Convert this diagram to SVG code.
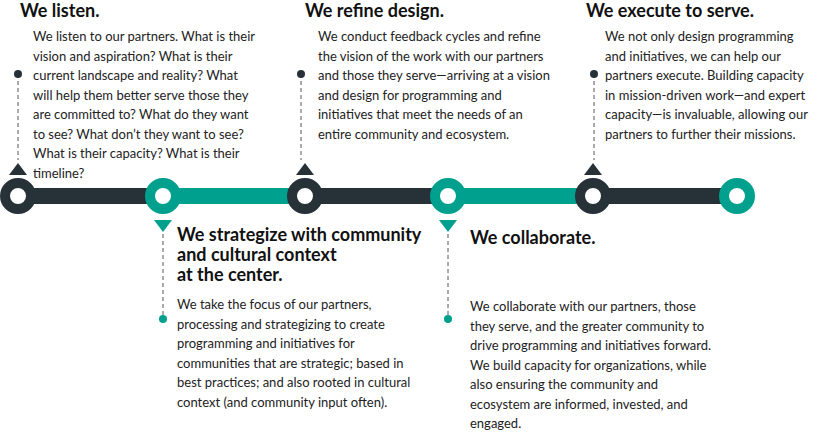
<svg xmlns="http://www.w3.org/2000/svg" width="819" height="432" viewBox="0 0 819 432">
<style>
.h{font-family:Lato,"Liberation Sans",sans-serif;font-weight:bold;font-size:18px;fill:#111}
.b{font-family:Lato,"Liberation Sans",sans-serif;font-size:13px;fill:#222}
.d{fill:#263238}.t{fill:#00a08e}
.dl{stroke:#555;stroke-width:1;stroke-dasharray:4,3}
</style>
<rect width="819" height="432" fill="#fff"/>
<g id="connectors">
<rect x="18" y="188" width="145" height="16" class="d"/>
<rect x="163" y="188" width="142" height="16" class="t"/>
<rect x="305" y="188" width="143" height="16" class="d"/>
<rect x="448" y="188" width="145" height="16" class="t"/>
<rect x="593" y="188" width="144" height="16" class="d"/>
<line x1="18" y1="74" x2="18" y2="160" class="dl"/>
<line x1="301" y1="74" x2="301" y2="160" class="dl"/>
<line x1="594" y1="74" x2="594" y2="160" class="dl"/>
<line x1="163" y1="234" x2="163" y2="319" class="dl"/>
<line x1="448" y1="234" x2="448" y2="319" class="dl"/>
<circle cx="18" cy="74" r="4" class="d"/><circle cx="301" cy="74" r="4" class="d"/><circle cx="594" cy="74" r="4" class="d"/>
<circle cx="163" cy="319" r="4" class="t"/><circle cx="448" cy="319" r="4" class="t"/>
<polygon points="9,175 27,175 18,163" class="d"/>
<polygon points="296,175 314,175 305,163" class="d"/>
<polygon points="584,175 602,175 593,163" class="d"/>
<polygon points="154,220 172,220 163,232" class="t"/>
<polygon points="439,220 457,220 448,232" class="t"/>
</g>
<g id="n1"><circle cx="18" cy="196" r="13" fill="#fff" stroke="#263238" stroke-width="10"/>
<text class="h" x="20" y="17">We listen.</text>
<text class="b"><tspan x="33" y="41">We listen to our partners. What is their</tspan><tspan x="33" y="60.5">vision and aspiration? What is their</tspan><tspan x="33" y="80">current landscape and reality? What</tspan><tspan x="33" y="99.5">will help them better serve those they</tspan><tspan x="33" y="119">are committed to? What do they want</tspan><tspan x="33" y="138.5">to see? What don’t they want to see?</tspan><tspan x="33" y="158">What is their capacity? What is their</tspan><tspan x="33" y="177.5">timeline?</tspan></text></g>
<g id="n2"><circle cx="163" cy="196" r="13" fill="#fff" stroke="#00a08e" stroke-width="10"/>
<text class="h"><tspan x="177" y="241">We strategize with community</tspan><tspan x="177" y="261">and cultural context</tspan><tspan x="177" y="281">at the center.</tspan></text>
<text class="b"><tspan x="177" y="309">We take the focus of our partners,</tspan><tspan x="177" y="328.5">processing and strategizing to create</tspan><tspan x="177" y="348">programming and initiatives for</tspan><tspan x="177" y="367.5">communities that are strategic; based in</tspan><tspan x="177" y="387">best practices; and also rooted in cultural</tspan><tspan x="177" y="406.5">context (and community input often).</tspan></text></g>
<g id="n3"><circle cx="305" cy="196" r="13" fill="#fff" stroke="#263238" stroke-width="10"/>
<text class="h" x="305" y="17">We refine design.</text>
<text class="b"><tspan x="318" y="41">We conduct feedback cycles and refine</tspan><tspan x="318" y="60.5">the vision of the work with our partners</tspan><tspan x="318" y="80">and those they serve—arriving at a vision</tspan><tspan x="318" y="99.5">and design for programming and</tspan><tspan x="318" y="119">initiatives that meet the needs of an</tspan><tspan x="318" y="138.5">entire community and ecosystem.</tspan></text></g>
<g id="n4"><circle cx="448" cy="196" r="13" fill="#fff" stroke="#00a08e" stroke-width="10"/>
<text class="h" x="470" y="244">We collaborate.</text>
<text class="b"><tspan x="470" y="311">We collaborate with our partners, those</tspan><tspan x="470" y="330.5">they serve, and the greater community to</tspan><tspan x="470" y="350">drive programming and initiatives forward.</tspan><tspan x="470" y="369.5">We build capacity for organizations, while</tspan><tspan x="470" y="389">also ensuring the community and</tspan><tspan x="470" y="408.5">ecosystem are informed, invested, and</tspan><tspan x="470" y="428">engaged.</tspan></text></g>
<g id="n5"><circle cx="593" cy="196" r="13" fill="#fff" stroke="#263238" stroke-width="10"/>
<text class="h" x="586" y="17">We execute to serve.</text>
<text class="b"><tspan x="605" y="41">We not only design programming</tspan><tspan x="605" y="60.5">and initiatives, we can help our</tspan><tspan x="605" y="80">partners execute. Building capacity</tspan><tspan x="605" y="99.5">in mission-driven work—and expert</tspan><tspan x="605" y="119">capacity—is invaluable, allowing our</tspan><tspan x="605" y="138.5">partners to further their missions.</tspan></text></g>
<g id="n6"><circle cx="737" cy="196" r="13" fill="#fff" stroke="#00a08e" stroke-width="10"/></g>
</svg>
